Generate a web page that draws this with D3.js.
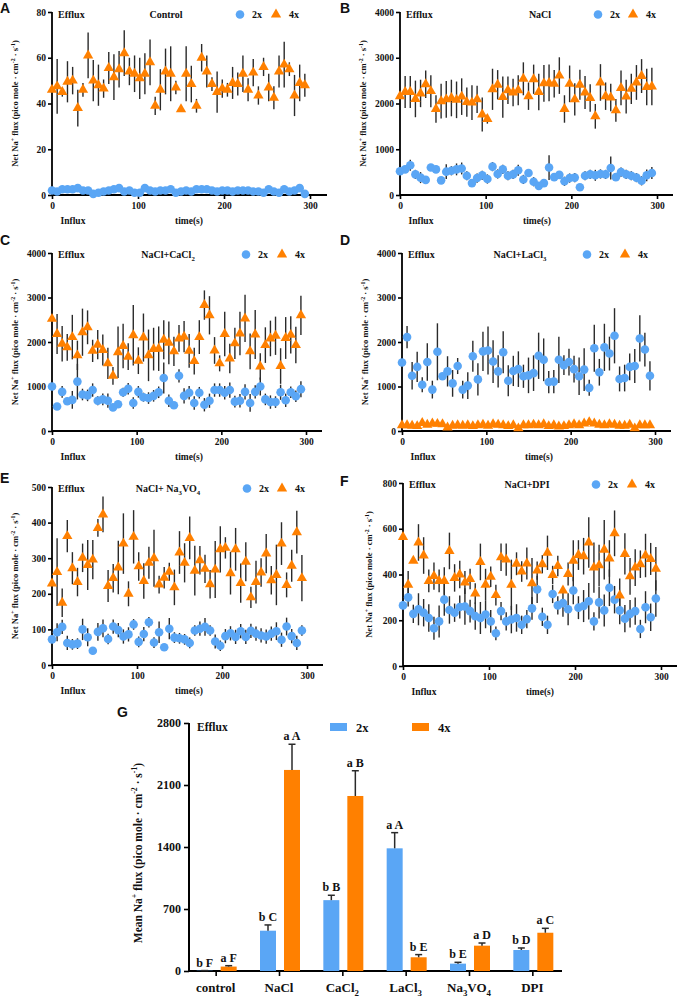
<!DOCTYPE html>
<html><head><meta charset="utf-8">
<script src="https://cdn.jsdelivr.net/npm/d3@7"></script>
<style>
body{margin:0;background:#fff}
svg text{font-family:'Liberation Serif','Times New Roman',serif;font-weight:bold;fill:#111}
</style>
</head><body><svg id="c" width="685" height="1001"></svg>
<script>
// ---------- DATA ----------
const times = [0,6,12,18,24,30,36,42,48,54,60,66,72,78,84,90,96,102,108,114,120,126,132,138,144,150,156,162,168,174,180,186,192,198,204,210,216,222,228,234,240,246,252,258,264,270,276,282,288,294];
const xTicks = [0,100,200,300];

const aBlue = [2,1.5,2.5,2.5,2.5,3,2,2,0.5,1,1.5,2,2.5,3,1.5,2,1,1,3,2,1.5,2,2,2.5,1,1.5,2,1.5,2.5,2.5,2.5,2,1.5,2,2,1.5,2,2,2,1.5,1.5,1,2.5,1.5,1,2.5,1.5,2,3,0.5];
const aBlueErr = [0.6,0.5,0.7,0.6,0.8,0.7,0.6,0.5,0.4,0.6,0.5,0.6,0.7,0.8,0.5,0.6,0.5,0.4,0.8,0.6,0.5,0.6,0.6,0.7,0.4,0.5,0.6,0.5,0.7,0.6,0.7,0.6,0.5,0.6,0.6,0.5,0.6,0.6,0.6,0.5,0.5,0.4,0.7,0.5,0.4,0.7,0.5,0.6,0.8,0.4];
const aOrange = [46,47.5,45,49.5,50,38,46,61,50,48,46.5,55.5,51.5,55,62,54,53,51,53,58,39,46,54,53,47,37.5,53,48.5,39,60,54,48.5,45,46.5,46,49,48.5,53,46,53.5,43.5,56,47,42.5,54,57,55,43.5,49,48];
const aOrangeErr = [0.5,12,2,9,6,8,3,10,9,9,4,7,10,8,10,6,8,9,9,10,4,9,10,12,3,0.5,12,8,3,6,7,3,9,4,3,7,5,8,5,6,4,4,6,5,7,10,3,9,8,5];

const bBlue = [520,560,650,450,380,330,600,560,320,510,530,560,580,420,260,370,430,350,620,460,560,420,450,540,340,480,290,200,260,600,390,440,300,370,380,170,420,450,430,460,450,590,390,500,450,420,380,310,430,480];
const bBlueErr = [40,60,120,100,120,60,70,80,40,160,100,130,130,100,40,100,100,100,100,100,100,100,100,120,100,80,100,40,40,270,80,80,100,100,100,20,100,100,120,100,100,250,50,100,100,100,100,100,130,130];
const bOrange = [2160,2250,2250,2100,2220,2420,2270,1880,2050,2090,2120,2080,2150,2030,2020,2090,1760,1660,2310,2410,2140,2290,2240,2290,2540,2160,2530,2250,2440,2450,2430,2610,1880,2430,2090,2410,2240,2120,1720,2460,2160,2130,1850,2340,2150,2320,2460,2600,2360,2370];
const bOrangeErr = [50,350,350,400,300,300,350,300,380,400,400,400,400,320,380,300,370,100,450,320,450,300,300,330,360,300,320,400,400,400,300,400,300,400,350,330,360,300,270,400,300,300,250,380,370,330,380,370,400,410];

const cBlue = [1000,550,880,670,700,1110,820,800,920,680,710,680,530,600,870,950,630,880,760,740,790,870,1190,680,580,1240,790,860,630,860,590,680,920,920,860,920,660,680,880,630,880,1000,710,650,650,870,690,870,780,940];
const cBlueErr = [40,40,130,80,200,400,130,130,150,100,130,160,60,60,100,130,130,130,100,130,130,130,350,140,60,150,170,150,150,130,150,160,150,150,150,170,130,150,170,200,150,200,130,150,130,170,150,130,130,180];
const cOrange = [2520,2180,1960,1880,2110,1700,2220,2330,1800,1940,1820,1520,1240,1770,1910,1670,2150,1580,2100,1700,1840,1850,2050,1980,1790,2080,2120,1800,1570,2110,2830,2600,1810,1520,2180,1630,1970,2190,2530,1790,2170,1450,1930,2080,2140,1460,2090,2160,1930,2600];
const cOrangeErr = [60,450,400,300,500,330,530,380,250,330,350,350,200,580,500,300,680,300,540,580,480,500,440,480,330,300,350,380,300,380,330,430,300,180,500,330,350,490,530,400,550,300,400,400,430,400,470,420,410,440];

const dBlue = [1540,2110,1240,1440,1040,1550,930,1780,1230,1340,1070,1460,930,1020,1680,1160,1790,1810,1560,1340,1770,1130,1350,1390,1230,1250,1300,1690,1600,1100,1110,1600,1480,1550,1390,1230,1380,970,1860,1320,1880,1740,2140,1170,1190,1440,1460,2080,1830,1240];
const dBlueErr = [50,250,310,340,170,420,200,640,60,340,300,180,200,300,350,360,440,540,480,360,470,350,340,400,260,400,400,520,480,250,260,520,220,300,300,420,480,180,530,300,530,380,620,280,300,300,380,520,380,330];
const dOrange = [130,130,120,110,180,140,170,160,150,80,120,130,120,130,110,130,140,120,150,140,130,110,130,60,130,130,140,130,150,110,130,100,110,130,150,130,170,200,170,140,130,150,140,120,120,140,60,130,130,130];
const dOrangeErr = [40,30,30,30,40,30,30,30,30,30,30,30,30,30,30,30,30,30,30,30,30,30,30,20,30,30,30,30,30,30,30,30,30,30,40,40,40,40,40,30,30,30,30,30,30,30,20,30,30,30];

const eBlue = [72,92,107,62,58,60,100,78,40,93,103,73,108,98,80,86,114,65,87,120,63,92,50,102,77,75,72,62,97,102,107,97,66,54,81,89,79,95,79,96,88,83,80,88,95,71,108,81,62,97];
const eBlueErr = [5,25,20,20,15,15,30,25,10,25,25,15,20,20,20,20,15,15,20,15,15,30,5,30,15,15,15,15,15,20,25,15,20,15,20,20,20,20,20,20,20,20,20,20,25,20,25,20,20,15];
const eOrange = [229,261,175,362,272,233,301,281,296,385,423,222,244,274,341,200,360,277,236,287,300,226,245,262,218,316,287,357,265,294,270,227,268,325,329,258,325,230,290,190,233,260,313,238,253,341,225,279,373,244];
const eOrangeErr = [5,95,40,45,45,40,40,70,55,25,50,45,40,75,85,35,75,40,50,45,80,25,30,25,50,60,55,60,70,40,40,40,80,65,30,60,60,55,55,30,60,40,55,40,85,60,35,45,60,65];

const fBlue = [265,300,228,248,233,210,165,195,290,245,233,258,260,240,218,210,225,195,143,240,195,203,210,180,205,252,335,215,180,315,265,275,248,330,255,262,283,195,278,243,342,290,243,207,228,240,162,257,213,295];
const fBlueErr = [5,40,40,70,60,60,50,70,70,60,40,50,80,50,60,70,60,50,30,40,40,60,60,40,40,50,60,40,40,40,40,60,70,60,50,70,80,40,70,70,80,60,60,60,60,60,40,70,60,80];
const fOrange = [564,355,460,540,483,372,393,372,372,503,385,400,365,380,317,455,355,390,310,475,465,355,447,413,448,362,417,445,495,398,437,330,402,460,485,480,540,430,440,508,470,580,308,490,392,430,445,483,468,425];
const fOrangeErr = [5,60,5,80,80,50,60,50,60,80,60,60,50,45,45,80,70,45,45,60,70,110,50,45,70,110,40,40,75,40,45,5,50,90,65,80,110,110,90,130,80,100,75,90,80,80,60,95,70,95];

// Panel G
const gCategories = ['control','NaCl','CaCl2','LaCl3','Na3VO4','DPI'];
const gSeries = ['2x','4x'];
const g2x = [3,455,800,1385,83,237];
const g2xErr = [2,65,55,177,15,23];
const g4x = [50,2270,1976,155,286,432];
const g4xErr = [10,290,285,30,30,50];
const gLetters2x = ['b F','b C','b B','a A','b E','b D'];
const gLetters4x = ['a F','a A','a B','b E','a D','a C'];
const gTicks = [0,700,1400,2100,2800];

// ---------- DRAW ----------
const BLUE = '#5aa6f5', ORANGE = '#ff8000', ERR = '#2a2a2a';
const SERIF = "'Liberation Serif','Times New Roman',serif";
const svg = d3.select('#c');

function rich(sel, segs, size) {
  let shift = 0;
  segs.forEach(s => {
    const [txt, kind] = typeof s === 'string' ? [s, null] : s;
    const target = kind === 'sup' ? -size*0.4 : kind === 'sub' ? size*0.28 : 0;
    const t = sel.append('tspan').text(txt).attr('dy', target - shift);
    if (kind) t.attr('font-size', size*0.68);
    shift = target;
  });
}
const yLabSegs = ['Net Na',['+','sup'],' flux (pico mole · cm',['-2','sup'],' · s',['-1','sup'],')'];

const panels = [
  {L:'A', lx:0, ly:13, x0:52, x300:310, xEnd:327, yTop:12, yBot:195, max:80, ticks:[0,20,40,60,80], head:18, title:['Control'], tx:166, legC:240, legT:276, ylx:18, blue:aBlue, be:aBlueErr, orange:aOrange, oe:aOrangeErr},
  {L:'B', lx:340, ly:13, x0:400, x300:657, xEnd:673, yTop:12, yBot:195, max:4000, ticks:[0,1000,2000,3000,4000], head:18, title:['NaCl'], tx:540, legC:598, legT:633, ylx:366, blue:bBlue, be:bBlueErr, orange:bOrange, oe:bOrangeErr},
  {L:'C', lx:0, ly:245, x0:52, x300:306, xEnd:322, yTop:253, yBot:431, max:4000, ticks:[0,1000,2000,3000,4000], head:258, title:['NaCl+CaCl',['2','sub']], tx:168, legC:246, legT:282, ylx:18, blue:cBlue, be:cBlueErr, orange:cOrange, oe:cOrangeErr},
  {L:'D', lx:340, ly:245, x0:402, x300:655, xEnd:671, yTop:253, yBot:431, max:4000, ticks:[0,1000,2000,3000,4000], head:258, title:['NaCl+LaCl',['3','sub']], tx:520, legC:587, legT:625, ylx:368, blue:dBlue, be:dBlueErr, orange:dOrange, oe:dOrangeErr},
  {L:'E', lx:0, ly:483, x0:52, x300:307, xEnd:323, yTop:487, yBot:665, max:500, ticks:[0,100,200,300,400,500], head:492, title:['NaCl+  Na',['3','sub'],'VO',['4','sub']], tx:168, legC:247, legT:282, ylx:18, blue:eBlue, be:eBlueErr, orange:eOrange, oe:eOrangeErr},
  {L:'F', lx:340, ly:486, x0:403, x300:661, xEnd:677, yTop:483, yBot:666, max:800, ticks:[0,200,400,600,800], head:488, title:['NaCl+DPI'], tx:527, legC:596, legT:632, ylx:372, blue:fBlue, be:fBlueErr, orange:fOrange, oe:fOrangeErr},
];

const tri = d3.symbol().type(d3.symbolTriangle).size(46);
const fmt = d3.format('d');

function styleAxis(g, fs) {
  g.attr('font-family', SERIF).attr('font-size', fs);
  g.select('.domain').remove();
  g.selectAll('.tick line').attr('stroke','#000').attr('stroke-width',1.6);
  g.selectAll('.tick text').attr('font-size', fs).attr('fill','#111')
    .style('font-family', SERIF).style('font-weight','bold');
}

panels.forEach(p => {
  const g = svg.append('g');
  const x = d3.scaleLinear().domain([0,300]).range([p.x0, p.x300]);
  const y = d3.scaleLinear().domain([0,p.max]).range([p.yBot, p.yTop]);

  g.append('text').attr('x',p.lx).attr('y',p.ly).text(p.L)
    .style('font-family',"'Liberation Sans',Arial,sans-serif").attr('font-size',14).style('font-weight','bold').attr('fill','#000');

  const ya = g.append('g').attr('transform',`translate(${p.x0},0)`)
    .call(d3.axisLeft(y).tickValues(p.ticks).tickFormat(fmt).tickSize(4).tickPadding(2));
  styleAxis(ya, 9.5);
  const xa = g.append('g').attr('transform',`translate(0,${p.yBot})`)
    .call(d3.axisBottom(x).tickValues(xTicks).tickFormat(fmt).tickSize(4).tickPadding(3));
  styleAxis(xa, 9.5);
  g.append('line').attr('x1',p.x0).attr('x2',p.x0).attr('y1',p.yTop).attr('y2',p.yBot+0.8).attr('stroke','#000').attr('stroke-width',1.8);
  g.append('line').attr('x1',p.x0).attr('x2',p.xEnd).attr('y1',p.yBot).attr('y2',p.yBot).attr('stroke','#000').attr('stroke-width',1.8);

  // labels
  g.append('text').attr('x',p.x0+21).attr('y',p.yBot+29).attr('text-anchor','middle').attr('font-size',9.5).text('Influx');
  g.append('text').attr('x',p.x0+137).attr('y',p.yBot+29).attr('text-anchor','middle').attr('font-size',9.5).text('time(s)');
  g.append('text').attr('x',p.x0+6).attr('y',p.head).attr('font-size',10).text('Efflux');
  rich(g.append('text').attr('x',p.tx).attr('y',p.head).attr('text-anchor','middle').attr('font-size',10), p.title, 10);
  const yl = g.append('text').attr('text-anchor','middle').attr('font-size',8.6)
    .attr('transform',`translate(${p.ylx},${(p.yTop+p.yBot)/2}) rotate(-90)`);
  rich(yl, yLabSegs, 8.6);

  // legend
  g.append('circle').attr('cx',p.legC).attr('cy',p.head-3.5).attr('r',4.3).attr('fill',BLUE);
  g.append('text').attr('x',p.legC+12).attr('y',p.head).attr('font-size',10).text('2x');
  g.append('path').attr('d',tri()).attr('transform',`translate(${p.legT},${p.head-3.5})`).attr('fill',ORANGE);
  g.append('text').attr('x',p.legT+13).attr('y',p.head).attr('font-size',10).text('4x');

  const series = [
    {v:p.blue, e:p.be, kind:'c'},
    {v:p.orange, e:p.oe, kind:'t'}
  ];
  series.forEach(s => {
    g.append('g').selectAll('line').data(times).join('line')
      .attr('x1',(t)=>x(t)).attr('x2',(t)=>x(t))
      .attr('y1',(t,i)=>y(Math.max(0,s.v[i]-s.e[i]))).attr('y2',(t,i)=>y(Math.min(p.max,s.v[i]+s.e[i])))
      .attr('stroke',ERR).attr('stroke-width',1.4);
  });
  series.forEach(s => {
    if (s.kind==='c') {
      g.append('g').selectAll('circle').data(times).join('circle')
        .attr('cx',t=>x(t)).attr('cy',(t,i)=>y(s.v[i])).attr('r',4.3).attr('fill',BLUE);
    } else {
      g.append('g').selectAll('path').data(times).join('path')
        .attr('d',tri()).attr('transform',(t,i)=>`translate(${x(t)},${y(s.v[i])})`).attr('fill',ORANGE);
    }
  });
});

// ---------- Panel G ----------
(function(){
  const g = svg.append('g');
  const yTop = 723, yBot = 971, xL = 189, xR = 562;
  const x0 = d3.scaleBand().domain(gCategories).range([184, 564]);
  const x1 = d3.scaleBand().domain(gSeries).range([-19, 21]).paddingInner(1/3);
  const y = d3.scaleLinear().domain([0,2800]).range([yBot, yTop]);

  g.append('text').attr('x',117).attr('y',717).text('G')
    .style('font-family',"'Liberation Sans',Arial,sans-serif").attr('font-size',14).style('font-weight','bold').attr('fill','#000');

  const ya = g.append('g').attr('transform',`translate(${xL},0)`)
    .call(d3.axisLeft(y).tickValues(gTicks).tickFormat(fmt).tickSize(5).tickPadding(3));
  styleAxis(ya, 12);
  const xa = g.append('g').attr('transform',`translate(0,${yBot})`)
    .call(d3.axisBottom(d3.scalePoint().domain(gCategories).range([x0('control')+x0.bandwidth()/2, x0('DPI')+x0.bandwidth()/2])).tickSize(5).tickFormat(''));
  styleAxis(xa, 12);
  g.append('line').attr('x1',xL).attr('x2',xL).attr('y1',yTop).attr('y2',yBot+1).attr('stroke','#000').attr('stroke-width',2);
  g.append('line').attr('x1',xL).attr('x2',xR).attr('y1',yBot).attr('y2',yBot).attr('stroke','#000').attr('stroke-width',2);

  const catLabels = [['control'],['NaCl'],['CaCl',['2','sub']],['LaCl',['3','sub']],['Na',['3','sub'],'VO',['4','sub']],['DPI']];
  gCategories.forEach((c,i) => {
    rich(g.append('text').attr('x',x0(c)+x0.bandwidth()/2).attr('y',992).attr('text-anchor','middle').attr('font-size',13), catLabels[i], 13);
  });

  const yl = g.append('text').attr('text-anchor','middle').attr('font-size',11.5)
    .attr('transform',`translate(142,853) rotate(-90)`);
  rich(yl, ['Mean Na',['+','sup'],' flux (pico mole · cm',['-2','sup'],' · s',['-1','sup'],')'], 11.5);

  g.append('text').attr('x',197).attr('y',731).attr('font-size',11.5).text('Efflux');
  g.append('rect').attr('x',330).attr('y',723).attr('width',17).attr('height',8).attr('fill',BLUE);
  g.append('text').attr('x',356).attr('y',732).attr('font-size',12.5).text('2x');
  g.append('rect').attr('x',412).attr('y',723).attr('width',17).attr('height',8).attr('fill',ORANGE);
  g.append('text').attr('x',438).attr('y',732).attr('font-size',12.5).text('4x');

  const sets = [
    {key:'2x', v:g2x, e:g2xErr, lab:gLetters2x, col:BLUE},
    {key:'4x', v:g4x, e:g4xErr, lab:gLetters4x, col:ORANGE}
  ];
  sets.forEach(s => {
    const cx = c => x0(c) + x0.bandwidth()/2 + x1(s.key);
    g.append('g').selectAll('rect').data(gCategories).join('rect')
      .attr('x',c=>cx(c)).attr('width',x1.bandwidth())
      .attr('y',(c,i)=>y(s.v[i])).attr('height',(c,i)=>yBot-y(s.v[i])).attr('fill',s.col);
    const eg = g.append('g');
    gCategories.forEach((c,i) => {
      const mx = cx(c) + x1.bandwidth()/2;
      eg.append('line').attr('x1',mx).attr('x2',mx).attr('y1',y(s.v[i])).attr('y2',y(s.v[i]+s.e[i])).attr('stroke',ERR).attr('stroke-width',1.5);
      eg.append('line').attr('x1',mx-3.5).attr('x2',mx+3.5).attr('y1',y(s.v[i]+s.e[i])).attr('y2',y(s.v[i]+s.e[i])).attr('stroke',ERR).attr('stroke-width',1.5);
      eg.append('text').attr('x',mx).attr('y',y(s.v[i]+s.e[i])-4).attr('text-anchor','middle').attr('font-size',12).text(s.lab[i]);
    });
  });
})();
</script></body></html>
